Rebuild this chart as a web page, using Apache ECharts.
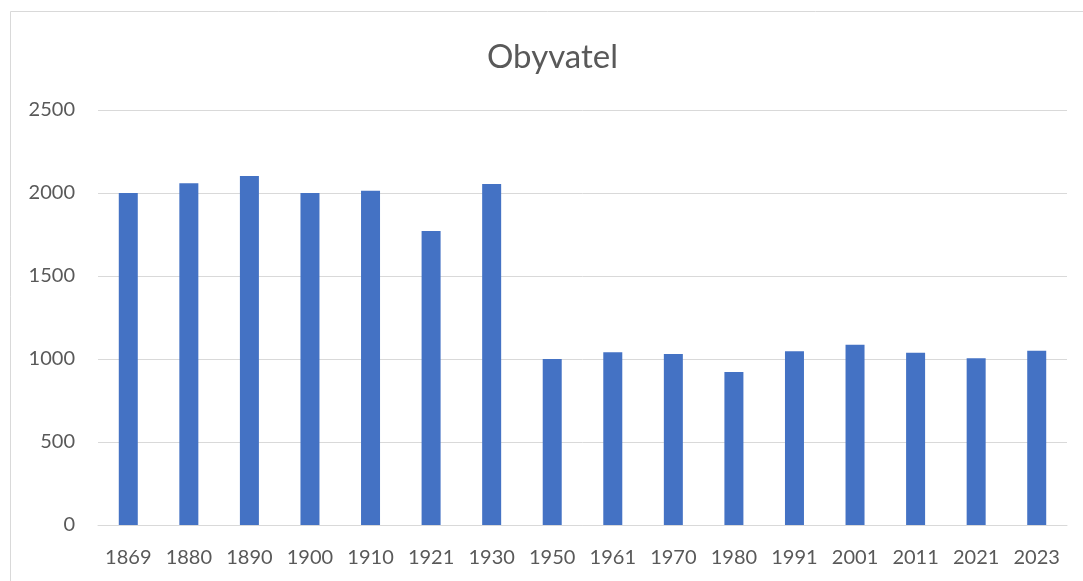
<!DOCTYPE html>
<html>
<head>
<meta charset="utf-8">
<script src="https://cdn.jsdelivr.net/npm/echarts@6/dist/echarts.min.js"></script>
<style>
html,body{margin:0;padding:0;background:#fff;}
#chart{width:1083px;height:581px;}
</style>
</head>
<body>
<div id="chart"></div>
<script>
const categories = ['1869','1880','1890','1900','1910','1921','1930','1950','1961','1970','1980','1991','2001','2011','2021','2023'];
const population = [2000, 2058, 2102, 2000, 2014, 1771, 2054, 1000, 1040, 1030, 922, 1046, 1086, 1038, 1004, 1050];
const yTicks = {min: 0, max: 2500, interval: 500};
const titleText = 'Obyvatel';

const chart = echarts.init(document.getElementById('chart'), null, {renderer: 'canvas'});
chart.setOption({
  animation: false,
  backgroundColor: '#fff',
  textStyle: {fontFamily: 'Lato'},
  graphic: [{
    type: 'rect',
    shape: {x: 10.5, y: 11.5, width: 1200, height: 700},
    style: {fill: 'none', stroke: '#d9d9d9', lineWidth: 1},
    silent: true,
    z: -1
  }],
  title: {
    text: titleText,
    left: 487,
    top: 41,
    padding: 0,
    textStyle: {fontFamily: 'Lato', fontSize: 33, fontWeight: 'normal', color: '#595959'}
  },
  grid: {left: 98, right: 16, top: 110, bottom: 56, containLabel: false},
  xAxis: {
    type: 'category',
    data: categories,
    axisLine: {lineStyle: {color: '#d9d9d9', width: 1}},
    axisTick: {show: false},
    axisLabel: {color: '#595959', fontSize: 20, margin: 23, fontFamily: 'Lato'}
  },
  yAxis: {
    type: 'value',
    min: yTicks.min,
    max: yTicks.max,
    interval: yTicks.interval,
    axisLine: {show: false},
    axisTick: {show: false},
    splitLine: {lineStyle: {color: '#d9d9d9', width: 1}},
    axisLabel: {color: '#595959', fontSize: 20, margin: 23, fontFamily: 'Lato', formatter: function (v) { return String(v); }}
  },
  series: [{
    type: 'bar',
    data: population,
    barWidth: 19,
    itemStyle: {color: '#4472C4'}
  }]
});
</script>
</body>
</html>
